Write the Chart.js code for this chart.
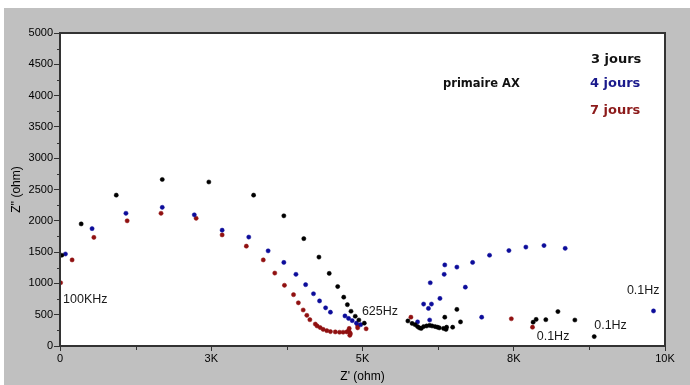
<!DOCTYPE html>
<html>
<head>
<meta charset="utf-8">
<script src="https://cdn.jsdelivr.net/npm/chart.js@4.4.1/dist/chart.umd.min.js"></script>
<style>
  html, body { margin: 0; padding: 0; background: #fff; }
</style>
</head>
<body>
<canvas id="graph_nyquist" width="690" height="385"></canvas>
<script>
/*------------------------------*/
/*     DONNEES  (Z', Z'')       */
/*------------------------------*/
var jours3_x = [30, 350, 930, 1690, 2460, 3200, 3700, 4030, 4280, 4450, 4590, 4690, 4750, 4810, 4880, 4940, 5030,
                5750, 5820, 5870, 5910, 5940, 5970, 6010, 6060, 6110, 6150, 6200, 6240, 6270, 6340, 6380, 6390, 6490,
                6620, 6360, 6560, 7820, 7870, 8030, 8230, 8510, 8830]
var jours3_y = [1450, 1950, 2410, 2660, 2620, 2410, 2080, 1715, 1420, 1160, 950, 780, 660, 555, 475, 415, 365,
                400, 360, 340, 310, 290, 280, 310, 320, 330, 320, 310, 300, 290, 280, 265, 300, 300,
                385, 460, 585, 380, 425, 420, 550, 415, 150]

var jours4_x = [90, 530, 1090, 1690, 2220, 2680, 3120, 3440, 3700, 3900, 4060, 4190, 4290, 4390, 4470, 4710, 4770, 4830, 4900, 4970,
                5910, 6110, 6010, 6090, 6140, 6280, 6120, 6350, 6360, 6560, 6700, 6820, 6970, 7100, 7420, 7700, 8000, 8350, 9810]
var jours4_y = [1470, 1875, 2120, 2215, 2095, 1850, 1740, 1520, 1335, 1145, 980, 835, 720, 610, 540, 480, 440, 405, 365, 340,
                385, 415, 670, 600, 670, 760, 1010, 1145, 1295, 1260, 940, 1335, 460, 1450, 1525, 1580, 1605, 1560, 560]

var jours7_x = [10, 200, 560, 1110, 1670, 2250, 2680, 3080, 3360, 3550, 3710, 3860, 3940, 4020, 4080, 4130, 4220, 4250, 4300,
                4350, 4410, 4470, 4550, 4620, 4680, 4740, 4770, 4780, 4790, 4790, 4800, 4920, 4920, 5060, 5800, 7460, 7810]
var jours7_y = [1010, 1375, 1735, 2000, 2120, 2040, 1775, 1595, 1375, 1165, 970, 820, 690, 575, 490, 420, 350, 320, 295,
                265, 245, 230, 225, 220, 220, 225, 245, 280, 215, 170, 195, 325, 290, 275, 460, 435, 300]

// graduations
var ticks_x = [0, 2500, 5000, 7500, 10000]
var ticks_y = [0, 500, 1000, 1500, 2000, 2500, 3000, 3500, 4000, 4500, 5000]

// frequences reperees sur le diagramme : [Z', Z'', texte]
var reperes = [
    [50, 735, '100KHz'],
    [4990, 545, '625Hz'],
    [9370, 885, '0.1Hz'],
    [8830, 325, '0.1Hz'],
    [7880, 145, '0.1Hz']
]

function points(xs, ys) {
    return xs.map(function (x, i) { return { x: x, y: ys[i] } })
}

/*------------------------------*/
/*     FOND ET CADRE            */
/*------------------------------*/
var fond = {
    id: 'fond',
    beforeDraw: function (chart) {
        var c = chart.ctx, a = chart.chartArea
        c.save()
        c.fillStyle = '#ffffff'
        c.fillRect(0, 0, chart.width, chart.height)
        c.fillStyle = '#c0c0c0'
        c.fillRect(4, 8, chart.width - 4, chart.height - 8)
        c.fillStyle = '#ffffff'
        c.fillRect(a.left, a.top, a.right - a.left, a.bottom - a.top)
        c.restore()
    },
    afterDraw: function (chart) {
        var c = chart.ctx, a = chart.chartArea
        var sx = chart.scales.x, sy = chart.scales.y
        c.save()
        // cadre
        c.strokeStyle = '#333333'
        c.lineWidth = 2
        c.strokeRect(a.left, a.top, a.right - a.left, a.bottom - a.top)
        // petites graduations
        c.lineWidth = 1
        c.beginPath()
        for (var v = 250; v < 5000; v += 500) {
            var py = Math.round(sy.getPixelForValue(v)) + 0.5
            c.moveTo(a.left - 3, py); c.lineTo(a.left, py)
        }
        for (var w = 1250; w < 10000; w += 2500) {
            var px = Math.round(sx.getPixelForValue(w)) + 0.5
            c.moveTo(px, a.bottom); c.lineTo(px, a.bottom + 4)
        }
        c.stroke()

        // frequences
        c.fillStyle = '#1a1a1a'
        c.font = '12.5px "Liberation Sans", Arial, sans-serif'
        c.textAlign = 'left'
        c.textBaseline = 'middle'
        reperes.forEach(function (r) {
            c.fillText(r[2], sx.getPixelForValue(r[0]), sy.getPixelForValue(r[1]))
        })

        // legende
        c.font = 'bold 11.5px "DejaVu Sans", sans-serif'
        c.fillStyle = '#111111'
        c.fillText('primaire AX', 443, 84)
        c.font = 'bold 13px "DejaVu Sans", sans-serif'
        c.fillStyle = '#111111'
        c.fillText('3 jours', 591, 60)
        c.fillStyle = '#1a1a8c'
        c.fillText('4 jours', 590, 84)
        c.fillStyle = '#8c1a1a'
        c.fillText('7 jours', 590, 111)
        c.restore()
    }
}

/*------------------------------*/
/*     GRAPHIQUE NYQUIST        */
/*------------------------------*/
var ctx_nyquist = document.getElementById('graph_nyquist').getContext('2d')

var data_nyquist = {
    datasets: [
        {
            label: '3 jours',
            data: points(jours3_x, jours3_y),
            backgroundColor: '#000000',
            borderColor: '#000000'
        },
        {
            label: '4 jours',
            data: points(jours4_x, jours4_y),
            backgroundColor: '#0c0c9a',
            borderColor: '#0c0c9a'
        },
        {
            label: '7 jours',
            data: points(jours7_x, jours7_y),
            backgroundColor: '#901010',
            borderColor: '#901010'
        }
    ]
}

var config_nyquist = {
    type: 'scatter',
    data: data_nyquist,
    options: {
        responsive: false,
        animation: false,
        devicePixelRatio: 1,
        layout: { padding: { left: 4, top: 33, right: 25, bottom: 0 } },
        elements: {
            point: { pointStyle: 'circle', radius: 2.1, borderWidth: 0.5, hoverRadius: 2.1 }
        },
        plugins: {
            legend: { display: false },
            tooltip: { enabled: false }
        },
        scales: {
            x: {
                type: 'linear',
                min: 0,
                max: 10000,
                afterFit: function (s) { s.height = 39 },
                afterBuildTicks: function (s) { s.ticks = ticks_x.map(function (v) { return { value: v } }) },
                border: { display: false },
                grid: { drawOnChartArea: false, drawTicks: true, tickLength: 5, color: '#333333' },
                ticks: {
                    color: '#000000',
                    padding: 1,
                    maxRotation: 0,
                    autoSkip: false,
                    font: { family: '"Liberation Sans", Arial, sans-serif', size: 11 },
                    callback: function (v) { return v === 0 ? '0' : Math.round(v / 1000) + 'K' }
                },
                title: {
                    display: true,
                    text: "Z' (ohm)",
                    color: '#000000',
                    padding: { top: 0, bottom: 1 },
                    font: { family: '"Liberation Sans", Arial, sans-serif', size: 12 }
                }
            },
            y: {
                type: 'linear',
                min: 0,
                max: 5000,
                afterFit: function (s) { s.width = 56 },
                afterBuildTicks: function (s) { s.ticks = ticks_y.map(function (v) { return { value: v } }) },
                border: { display: false },
                grid: { drawOnChartArea: false, drawTicks: true, tickLength: 6, color: '#333333' },
                ticks: {
                    color: '#000000',
                    padding: 1,
                    autoSkip: false,
                    font: { family: '"Liberation Sans", Arial, sans-serif', size: 11 },
                    callback: function (v) { return String(v) }
                },
                title: {
                    display: true,
                    text: "Z'' (ohm)",
                    color: '#000000',
                    padding: { top: 5, bottom: 0 },
                    font: { family: '"Liberation Sans", Arial, sans-serif', size: 12 }
                }
            }
        }
    },
    plugins: [fond]
}
var graph_nyquist = new Chart(ctx_nyquist, config_nyquist)
/*------------------------------*/
/*------------------------------*/
</script>
</body>
</html>
